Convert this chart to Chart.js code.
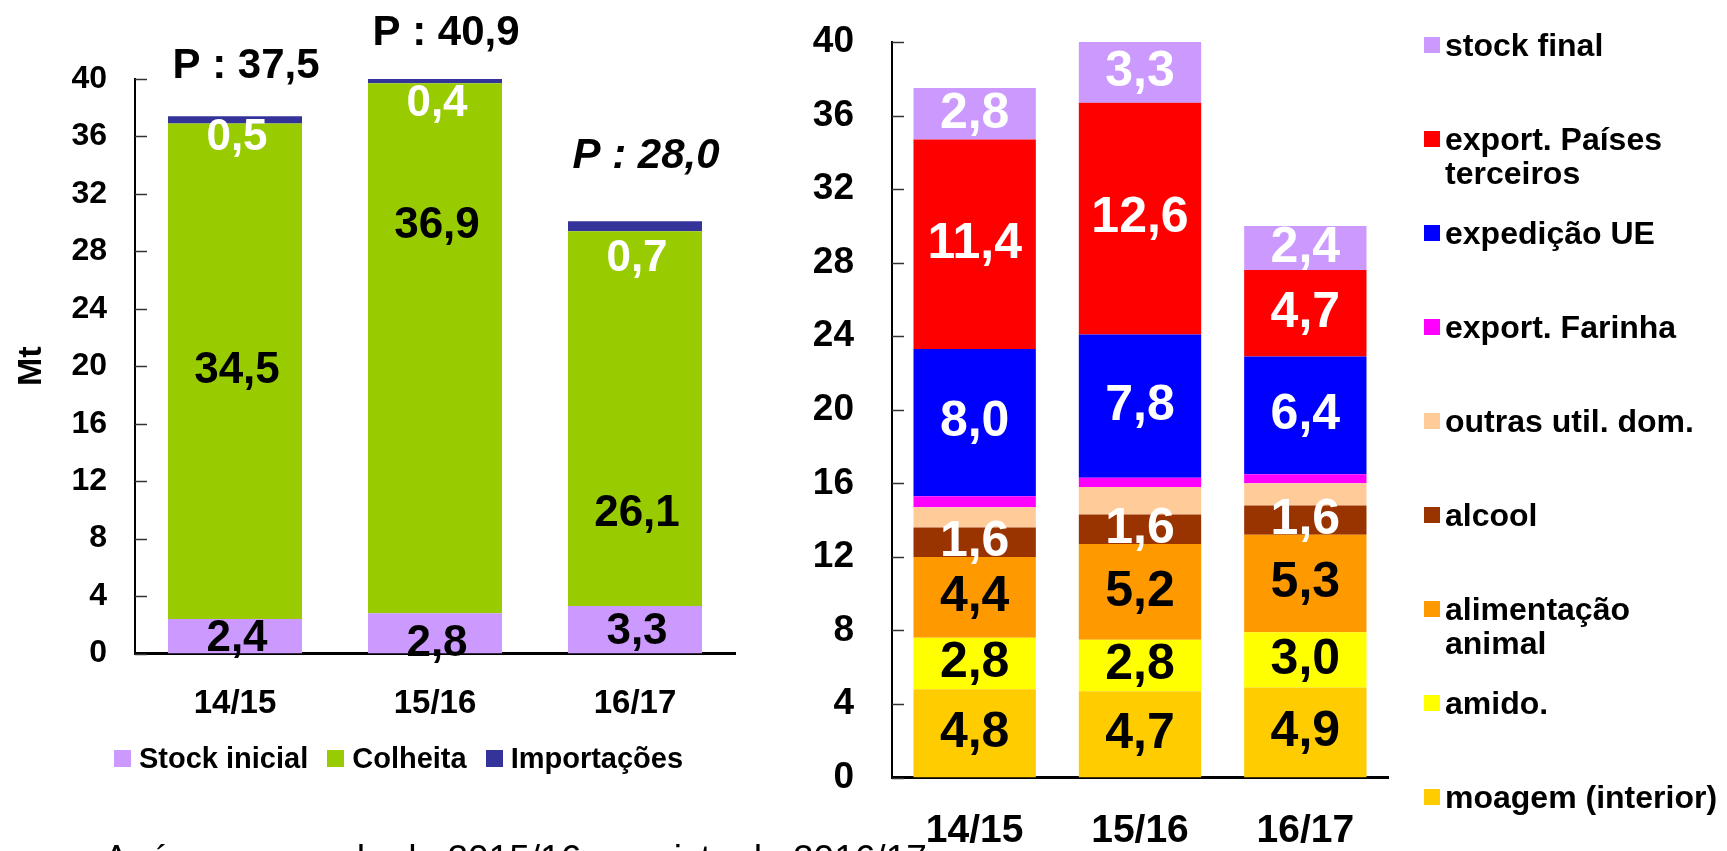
<!DOCTYPE html>
<html>
<head>
<meta charset="utf-8">
<script src="https://cdn.jsdelivr.net/npm/chart.js@4.4.1/dist/chart.umd.min.js"></script>
<style>
  html, body { margin:0; padding:0; background:#fff; }
  body { width:1727px; height:851px; overflow:hidden; position:relative;
         font-family:"Liberation Sans", Arial, Helvetica, sans-serif; color:#000; }
  #leftWrap  { position:absolute; left:0;     top:0; width:760px; height:851px; }
  #rightWrap { position:absolute; left:760px; top:0; width:967px; height:851px; }
  canvas { display:block; }
  #legendLeft { position:absolute; left:114px; top:740px; display:flex; align-items:center;
                font-weight:bold; font-size:29px; line-height:36px; white-space:nowrap; }
  #legendLeft .item { display:flex; align-items:center; margin-right:19px; }
  #legendLeft .box { width:17px; height:17px; margin-right:8px; }
  #legendRight .item { position:absolute; left:1424px; display:flex; align-items:flex-start;
                       font-weight:bold; font-size:32px; line-height:34px; white-space:pre; }
  #legendRight .box { width:16px; height:16px; margin-right:5px; margin-top:9px; flex:none; }
  #note { position:absolute; left:104px; top:840px; font-size:37px; line-height:37px;
          white-space:nowrap; font-weight:normal; }
</style>
</head>
<body>
<div id="leftWrap"><canvas id="cLeft" width="760" height="851"></canvas></div>
<div id="rightWrap"><canvas id="cRight" width="967" height="851"></canvas></div>
<div id="legendLeft"></div>
<div id="legendRight"></div>
<div id="note">Após um recorde de 2015/16, previsto de 2016/17</div>
<script>
// ---------------- DATA ----------------
const categories = ['14/15', '15/16', '16/17'];
const yTicks = [0, 4, 8, 12, 16, 20, 24, 28, 32, 36, 40];

// Left chart (supply)
const leftSeriesNames = ['Stock inicial', 'Colheita', 'Importações'];
const stockInicial = [2.4, 2.8, 3.3];
const colheita     = [34.5, 36.9, 26.1];
const importacoes  = [0.5, 0.4, 0.7];
const producao     = [37.5, 40.9, 28.0];

// Right chart (uses), bottom to top
const rightSeriesNames = ['moagem (interior)', 'amido.', 'alimentação\nanimal', 'alcool',
  'outras util. dom.', 'export. Farinha', 'expedição UE', 'export. Países\nterceiros', 'stock final'];
const moagem      = [4.8, 4.7, 4.9];
const amido       = [2.8, 2.8, 3.0];
const alimentacao = [4.4, 5.2, 5.3];
const alcool      = [1.6, 1.6, 1.6];
const outras      = [1.1, 1.5, 1.2];
const farinha     = [0.6, 0.5, 0.5];
const expedicao   = [8.0, 7.8, 6.4];
const exportPT    = [11.4, 12.6, 4.7];
const stockFinal  = [2.8, 3.3, 2.4];

// ---------------- STYLE / LAYOUT ----------------
const FONT = "'Liberation Sans', Arial, Helvetica, sans-serif";
Chart.defaults.font.family = FONT;
Chart.defaults.color = '#000';

const leftColors  = ['#CC99FF', '#99CC00', '#333399'];
const rightColors = ['#FFCC00', '#FFFF00', '#FF9900', '#993300', '#FFCC99', '#FF00FF', '#0000FF', '#FF0000', '#CC99FF'];

// label anchors for left chart (axis value where each text centre sits)
const leftLabelAnchors = [[1.0, 0.7, 1.5], [19.7, 29.8, 9.75], [35.87, 38.28, 27.5]];
const leftLabelColors = ['#000', '#000', '#fff'];
const producaoAnchors = [40.9, 43.15, 34.62];
const producaoItalic = [false, false, true];
// right chart label colours (null = no label)
const rightLabelColors = ['#000', '#000', '#000', '#fff', null, null, '#fff', '#fff', '#fff'];

const fmt = v => v.toFixed(1).replace('.', ',');

const innerTicks = {
  id: 'innerTicks',
  afterDraw(chart, args, o) {
    const ctx = chart.ctx, s = chart.scales.y, a = chart.chartArea;
    ctx.save();
    ctx.strokeStyle = o.color; ctx.lineWidth = o.width;
    s.ticks.forEach((t, i) => {
      const y = Math.round(s.getPixelForTick(i)) + 0.5;
      ctx.beginPath(); ctx.moveTo(a.left, y); ctx.lineTo(a.left + o.length, y); ctx.stroke();
    });
    ctx.restore();
  }
};

const barLabels = {
  id: 'barLabels',
  afterDatasetsDraw(chart, args, o) {
    const ctx = chart.ctx, ys = chart.scales.y;
    ctx.save();
    ctx.textAlign = 'center';
    ctx.textBaseline = 'middle';
    chart.data.datasets.forEach((ds, di) => {
      const color = o.colors[di];
      if (!color) return;
      const meta = chart.getDatasetMeta(di);
      ctx.fillStyle = color;
      ctx.font = 'bold ' + o.size + 'px ' + FONT;
      meta.data.forEach((bar, j) => {
        const y = o.anchors ? ys.getPixelForValue(o.anchors[di][j]) : (bar.y + bar.base) / 2;
        ctx.fillText(fmt(ds.data[j]), bar.x + (o.dx || 0), y);
      });
    });
    if (o.totals) {
      const meta = chart.getDatasetMeta(0);
      ctx.fillStyle = '#000';
      o.totals.values.forEach((v, j) => {
        ctx.font = (o.totals.italic[j] ? 'italic ' : '') + 'bold ' + o.totals.size + 'px ' + FONT;
        ctx.fillText('P : ' + fmt(v), meta.data[j].x + o.totals.dx, ys.getPixelForValue(o.totals.anchors[j]));
      });
    }
    ctx.restore();
  }
};

function setTicks(s) { s.ticks = yTicks.map(v => ({ value: v })); }
function noPad(s) { s.paddingTop = 0; s.paddingBottom = 0; }

// ---------------- LEFT CHART ----------------
const leftData = [stockInicial, colheita, importacoes];
const leftChart = new Chart(document.getElementById('cLeft'), {
  type: 'bar',
  data: {
    labels: categories,
    datasets: leftData.map((d, i) => ({
      label: leftSeriesNames[i], data: d, backgroundColor: leftColors[i],
      borderWidth: 0, barPercentage: 0.67, categoryPercentage: 1
    }))
  },
  plugins: [innerTicks, barLabels],
  options: {
    responsive: false, animation: false, events: [],
    layout: { padding: { left: 7, top: 79, right: 25, bottom: 851 - 653.5 - 80 } },
    plugins: {
      legend: { display: false }, tooltip: { enabled: false },
      innerTicks: { color: '#333', width: 1.5, length: 12 },
      barLabels: {
        colors: leftLabelColors, anchors: leftLabelAnchors, size: 44, dx: 2,
        totals: { values: producao, anchors: producaoAnchors, italic: producaoItalic, size: 42, dx: 11 }
      }
    },
    scales: {
      x: {
        stacked: true,
        grid: { display: false, drawTicks: false },
        border: { display: true, color: '#000', width: 3 },
        ticks: { color: '#000', font: { size: 33, weight: 'bold', lineHeight: 1.2 }, padding: 31 },
        afterFit(s) { s.height = 80; }
      },
      y: {
        stacked: true, min: 0, max: 40,
        afterBuildTicks: setTicks,
        grid: { display: false, drawTicks: false },
        border: { display: true, color: '#000', width: 2 },
        ticks: { color: '#000', font: { size: 32, weight: 'bold' }, padding: 28 },
        title: { display: true, text: 'Mt', color: '#000', font: { size: 34, weight: 'bold', lineHeight: 1.2 }, padding: { top: 4, bottom: 4 } },
        afterFit(s) { s.width = 135 - 7; noPad(s); }
      }
    }
  }
});

// ---------------- RIGHT CHART ----------------
const rightData = [moagem, amido, alimentacao, alcool, outras, farinha, expedicao, exportPT, stockFinal];
const rightChart = new Chart(document.getElementById('cRight'), {
  type: 'bar',
  data: {
    labels: categories,
    datasets: rightData.map((d, i) => ({
      label: rightSeriesNames[i], data: d, backgroundColor: rightColors[i],
      borderWidth: 0, barPercentage: 0.74, categoryPercentage: 1
    }))
  },
  plugins: [innerTicks, barLabels],
  options: {
    responsive: false, animation: false, events: [],
    layout: { padding: { left: 0, top: 42, right: 339, bottom: 0 } },
    plugins: {
      legend: { display: false }, tooltip: { enabled: false },
      innerTicks: { color: '#333', width: 1.5, length: 12 },
      barLabels: { colors: rightLabelColors, size: 50, dx: 0 }
    },
    scales: {
      x: {
        stacked: true,
        grid: { display: false, drawTicks: false },
        border: { display: true, color: '#000', width: 3 },
        ticks: { color: '#000', font: { size: 39, weight: 'bold', lineHeight: 1.2 }, padding: 30 },
        afterFit(s) { s.height = 73.4; }
      },
      y: {
        stacked: true, min: 0, max: 40,
        afterBuildTicks: setTicks,
        grid: { display: false, drawTicks: false },
        border: { display: true, color: '#000', width: 2 },
        ticks: { color: '#000', font: { size: 37, weight: 'bold' }, padding: 38 },
        afterFit(s) { s.width = 132; noPad(s); }
      }
    }
  }
});

// ---------------- LEGENDS (built from chart datasets) ----------------
const ll = document.getElementById('legendLeft');
leftChart.data.datasets.forEach(ds => {
  const it = document.createElement('div'); it.className = 'item';
  const b = document.createElement('div'); b.className = 'box'; b.style.background = ds.backgroundColor;
  const t = document.createElement('span'); t.textContent = ds.label;
  it.appendChild(b); it.appendChild(t); ll.appendChild(it);
});
const lr = document.getElementById('legendRight');
rightChart.data.datasets.slice().reverse().forEach((ds, i) => {
  const it = document.createElement('div'); it.className = 'item';
  it.style.top = (45 + i * 94 - 17) + 'px';
  const b = document.createElement('div'); b.className = 'box'; b.style.background = ds.backgroundColor;
  const t = document.createElement('span'); t.textContent = ds.label;
  it.appendChild(b); it.appendChild(t); lr.appendChild(it);
});
</script>
</body>
</html>
